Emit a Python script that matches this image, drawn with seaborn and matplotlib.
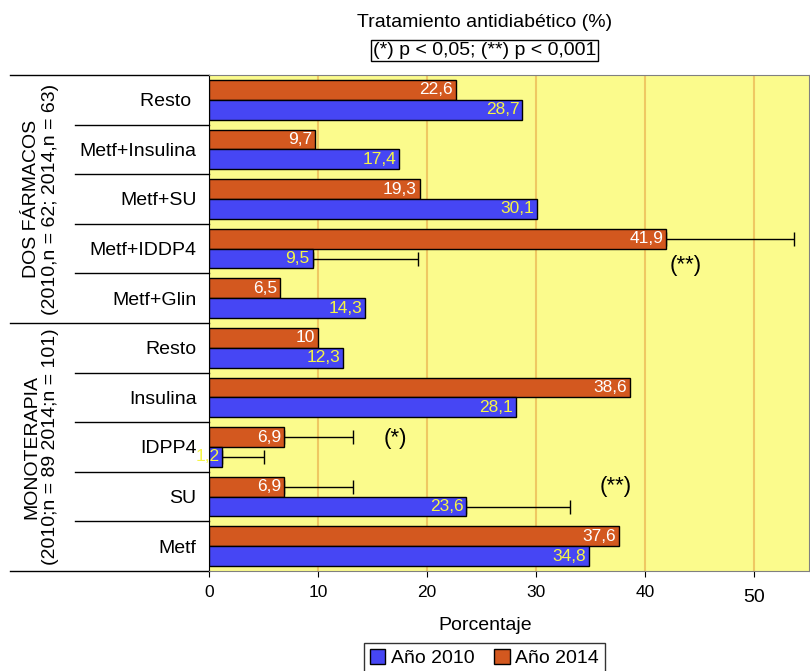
import matplotlib
matplotlib.use("Agg")
import matplotlib.pyplot as plt
from matplotlib.patches import Patch
import pandas as pd
import seaborn as sns

# datos
categorias = ["Resto ", "Metf+Insulina", "Metf+SU", "Metf+IDDP4", "Metf+Glin",
              "Resto", "Insulina", "IDPP4", "SU", "Metf"]
ano_2010 = [28.7, 17.4, 30.1, 9.5, 14.3, 12.3, 28.1, 1.2, 23.6, 34.8]
ano_2014 = [22.6, 9.7, 19.3, 41.9, 6.5, 10.0, 38.6, 6.9, 6.9, 37.6]
etiq_2010 = ["28,7", "17,4", "30,1", "9,5", "14,3", "12,3", "28,1", "1,2", "23,6", "34,8"]
etiq_2014 = ["22,6", "9,7", "19,3", "41,9", "6,5", "10", "38,6", "6,9", "6,9", "37,6"]
# error (solo hacia la derecha), 0 = sin barra
err_2010 = [0, 0, 0, 9.7, 0, 0, 0, 3.8, 9.5, 0]
err_2014 = [0, 0, 0, 11.7, 0, 0, 0, 6.3, 6.3, 0]
grupos = ["DOS FÁRMACOS\n(2010,n = 62; 2014,n = 63)",
          "MONOTERAPIA\n(2010;n = 89 2014;n = 101)"]
significancia = [("(**)", 42.2, 3.35), ("(*)", 16.0, 6.82), ("(**)", 35.8, 7.8)]

azul = "#4646F4"
naranja = "#D3581F"
amarillo = "#FBFB8C"

df = pd.DataFrame({
    "Tratamiento": categorias * 2,
    "Porcentaje": ano_2014 + ano_2010,
    "Año": ["Año 2014"] * len(categorias) + ["Año 2010"] * len(categorias),
})

plt.rcParams["font.family"] = ["Liberation Sans", "DejaVu Sans"]

fig = plt.figure(figsize=(8.1, 6.71), dpi=100)
ax = fig.add_axes([209 / 810, 1 - 571 / 671, 600 / 810, 496 / 671])
ax.set_facecolor(amarillo)

sns.barplot(data=df, x="Porcentaje", y="Tratamiento", hue="Año",
            hue_order=["Año 2014", "Año 2010"], order=categorias,
            palette={"Año 2014": naranja, "Año 2010": azul},
            orient="h", width=0.8, edgecolor="black", linewidth=1,
            saturation=1, legend=False, ax=ax, zorder=3)

ax.set_xlim(0, 55)
ax.set_ylim(9.5, -0.5)
ax.set_xticks([0, 10, 20, 30, 40, 50])
for x in [10, 20, 30, 40, 50]:
    ax.axvline(x, color="#EFC862", lw=1.5, zorder=1)

# etiquetas, barras de error
for cont, etiq, err, col in [(ax.containers[0], etiq_2014, err_2014, "white"),
                             (ax.containers[1], etiq_2010, err_2010, "#F5F545")]:
    for bar, t, e in zip(cont, etiq, err):
        val = bar.get_width()
        yc = bar.get_y() + bar.get_height() / 2
        if e > 0:
            ax.errorbar(val, yc, xerr=[[0], [e]], fmt="none", ecolor="black",
                        elinewidth=1, capsize=5, capthick=1, zorder=2)
        ax.annotate(t, (val, yc), xytext=(-2, 0), textcoords="offset points",
                    ha="right", va="center", color=col, fontsize=12.5,
                    zorder=5, annotation_clip=False)

for txt, x, y in significancia:
    ax.text(x, y, txt, fontsize=16, ha="left", va="center", zorder=4,
            bbox=dict(facecolor=amarillo, edgecolor="none", pad=1))

# ejes
ax.set_ylabel("")
ax.set_xlabel("Porcentaje", fontsize=14)
ax.xaxis.set_label_coords((485 - 209) / 600, -0.093)
ax.tick_params(axis="y", length=0, pad=9, labelsize=14)
ax.tick_params(axis="x", length=4, labelsize=12.5, pad=6)
ax.xaxis.get_major_ticks()[-1].set_pad(9)
ax.get_xticklabels()[-1].set_fontsize(14)
ax.spines["left"].set_color("black")
for s in ["top", "right", "bottom"]:
    ax.spines[s].set_color("#808080")

# lineas separadoras a la izquierda
trans = ax.get_yaxis_transform()
for k in range(11):
    y = k - 0.5
    x0 = -0.332 if k in (0, 5, 10) else -0.223
    ax.plot([x0, 0], [y, y], color="black", lw=1, transform=trans, clip_on=False)

for g, yc in zip(grupos, [2, 7]):
    ax.text(-0.28, yc, g, rotation=90, ha="center", va="center",
            fontsize=14, transform=trans, linespacing=1.1)

fig.text(0.598, 0.967, "Tratamiento antidiabético (%)", ha="center",
         va="center", fontsize=14)
fig.text(0.598, 0.925, "(*) p < 0,05; (**) p < 0,001", ha="center",
         va="center", fontsize=14,
         bbox=dict(facecolor="white", edgecolor="black", pad=1.5, lw=1))

handles = [Patch(facecolor=azul, edgecolor="black", label="Año 2010"),
           Patch(facecolor=naranja, edgecolor="black", label="Año 2014")]
fig.legend(handles=handles, loc="upper center", bbox_to_anchor=(0.598, 0.042),
           ncol=2, frameon=True, fancybox=False, edgecolor="black",
           fontsize=14, handlelength=0.8, handleheight=0.8, handletextpad=0.3,
           columnspacing=1.0, borderpad=0.3, borderaxespad=0)

fig.savefig("out.png", dpi=100)
